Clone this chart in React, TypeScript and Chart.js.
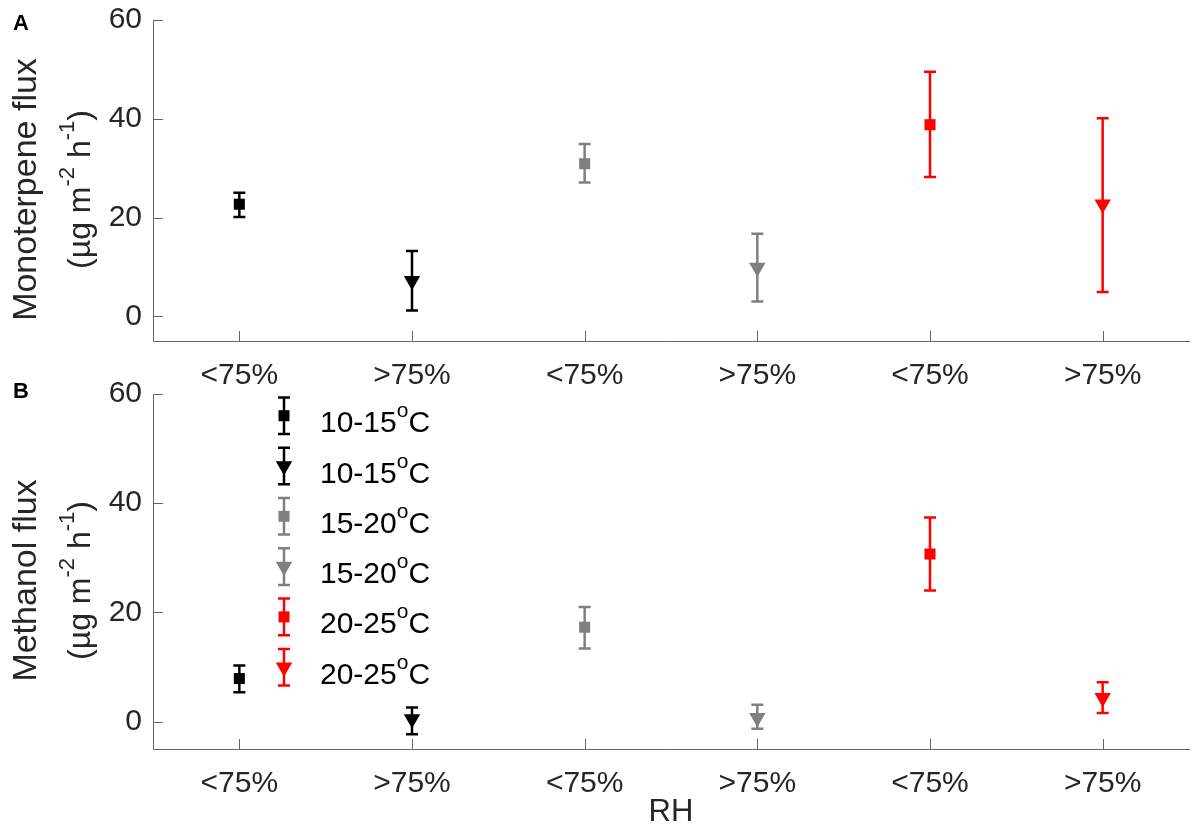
import React, { useEffect, useRef } from 'react';
import { Chart, registerables } from 'chart.js';

Chart.register(...registerables);

// ---------- data ----------
const rhCategories = ['<75%', '>75%', '<75%', '>75%', '<75%', '>75%'];
const tempLabels = ['10-15', '10-15', '15-20', '15-20', '20-25', '20-25'];
const seriesColors = ['#000000', '#000000', '#808080', '#808080', '#ff0000', '#ff0000'];
const markerShapes = ['rect', 'triangle', 'rect', 'triangle', 'rect', 'triangle'];
const yTickValues = [0, 20, 40, 60];

const monoMean = [22.7, 7.2, 30.9, 9.9, 38.8, 22.7];
const monoLow = [20.1, 1.2, 27.1, 3.0, 28.2, 4.9];
const monoHigh = [25.0, 13.2, 34.9, 16.7, 49.5, 40.1];

const methMean = [7.9, 0.5, 17.3, 0.7, 30.7, 4.4];
const methLow = [5.4, -2.3, 13.4, -1.3, 24.0, 1.6];
const methHigh = [10.3, 2.6, 21.0, 3.1, 37.4, 7.2];

// ---------- styling ----------
const FONT = "'Liberation Sans', Arial, Helvetica, sans-serif";
const TEXT = '#262626';
const AXIS = '#666666';
const CAP = 6;

type PanelCfg = {
  letter: string;
  letterY: number;
  title: string;
  mean: number[];
  low: number[];
  high: number[];
  legend: boolean;
  xTitle: string | null;
  top: number;
  height: number;
  padTop: number;
  axisHeight: number;
};

function drawMarker(ctx: CanvasRenderingContext2D, shape: string, x: number, y: number, color: string) {
  ctx.fillStyle = color;
  if (shape === 'rect') {
    ctx.fillRect(x - 5.5, y - 5.5, 11, 11);
  } else {
    const r = 9.5;
    ctx.beginPath();
    ctx.moveTo(x, y + r);
    ctx.lineTo(x - r * 0.866, y - r / 2);
    ctx.lineTo(x + r * 0.866, y - r / 2);
    ctx.closePath();
    ctx.fill();
  }
}

function drawErrorBar(ctx: CanvasRenderingContext2D, x: number, y1: number, y2: number, color: string) {
  ctx.strokeStyle = color;
  ctx.lineWidth = 2.5;
  ctx.beginPath();
  ctx.moveTo(x, y1);
  ctx.lineTo(x, y2);
  ctx.moveTo(x - CAP, y1);
  ctx.lineTo(x + CAP, y1);
  ctx.moveTo(x - CAP, y2);
  ctx.lineTo(x + CAP, y2);
  ctx.stroke();
}

function makeDecor(cfg: PanelCfg) {
  return {
    id: 'decor' + cfg.letter,
    beforeDatasetsDraw(chart: any) {
      const { ctx } = chart;
      const xs = chart.scales.x;
      const ys = chart.scales.y;
      ctx.save();
      cfg.mean.forEach((_, i) => {
        const px = xs.getPixelForValue(i + 1);
        drawErrorBar(ctx, px, ys.getPixelForValue(cfg.low[i]), ys.getPixelForValue(cfg.high[i]), seriesColors[i]);
      });
      ctx.restore();
    },
    afterDraw(chart: any) {
      const { ctx, chartArea } = chart;
      const xs = chart.scales.x;
      const ys = chart.scales.y;
      ctx.save();
      // inward tick marks
      ctx.strokeStyle = AXIS;
      ctx.lineWidth = 1;
      ctx.beginPath();
      yTickValues.forEach((v) => {
        const py = Math.round(ys.getPixelForValue(v)) + 0.5;
        ctx.moveTo(chartArea.left, py);
        ctx.lineTo(chartArea.left + 10, py);
      });
      rhCategories.forEach((_, i) => {
        const px = Math.round(xs.getPixelForValue(i + 1)) + 0.5;
        ctx.moveTo(px, chartArea.bottom);
        ctx.lineTo(px, chartArea.bottom - 10);
      });
      ctx.stroke();

      // panel letter
      ctx.fillStyle = '#000';
      ctx.font = `bold 22px ${FONT}`;
      ctx.textAlign = 'left';
      ctx.textBaseline = 'alphabetic';
      ctx.fillText(cfg.letter, 13, cfg.letterY);

      // y title (two lines, rotated)
      const cy = (chartArea.top + chartArea.bottom) / 2 + 9;
      ctx.fillStyle = TEXT;
      ctx.save();
      ctx.translate(36, cy);
      ctx.rotate(-Math.PI / 2);
      ctx.font = `34px ${FONT}`;
      ctx.textAlign = 'center';
      ctx.fillText(cfg.title, 0, 0);
      ctx.restore();

      const segs = [
        { t: '(µg m', sup: false },
        { t: '-2', sup: true },
        { t: ' h', sup: false },
        { t: '-1', sup: true },
        { t: ')', sup: false },
      ];
      const mainF = `32px ${FONT}`;
      const supF = `22px ${FONT}`;
      let total = 0;
      const widths = segs.map((s) => {
        ctx.font = s.sup ? supF : mainF;
        const w = ctx.measureText(s.t).width;
        total += w;
        return w;
      });
      ctx.save();
      ctx.translate(90, cy);
      ctx.rotate(-Math.PI / 2);
      ctx.textAlign = 'left';
      let xx = -total / 2;
      segs.forEach((s, i) => {
        ctx.font = s.sup ? supF : mainF;
        ctx.fillText(s.t, xx, s.sup ? -16 : 0);
        xx += widths[i];
      });
      ctx.restore();

      // legend
      if (cfg.legend) {
        const lx = chartArea.left + 131;
        tempLabels.forEach((lab, i) => {
          const y = chartArea.top + 21.7 + i * 50.3;
          drawErrorBar(ctx, lx, y - 18.3, y + 18.3, seriesColors[i]);
          drawMarker(ctx, markerShapes[i], lx, y, seriesColors[i]);
          ctx.fillStyle = '#000';
          ctx.textAlign = 'left';
          ctx.textBaseline = 'alphabetic';
          let tx = chartArea.left + 167;
          const base = y + 16.5;
          ctx.font = `30px ${FONT}`;
          ctx.fillText(lab, tx, base);
          tx += ctx.measureText(lab).width;
          ctx.font = `21px ${FONT}`;
          ctx.fillText('o', tx, base - 15);
          tx += ctx.measureText('o').width;
          ctx.font = `30px ${FONT}`;
          ctx.fillText('C', tx, base);
        });
      }
      ctx.restore();
    },
  };
}

function Panel({ cfg }: { cfg: PanelCfg }) {
  const ref = useRef<HTMLCanvasElement | null>(null);
  useEffect(() => {
    if (!ref.current) return;
    const datasets = cfg.mean.map((m, i) => ({
      label: tempLabels[i],
      data: [{ x: i + 1, y: m }],
      showLine: false,
      pointStyle: markerShapes[i] as any,
      pointRadius: markerShapes[i] === 'rect' ? 7.8 : 9.5,
      pointRotation: markerShapes[i] === 'rect' ? 0 : 180,
      pointBorderWidth: 0,
      backgroundColor: seriesColors[i],
      borderColor: seriesColors[i],
      pointBackgroundColor: seriesColors[i],
      pointBorderColor: seriesColors[i],
    }));
    const chart = new Chart(ref.current, {
      type: 'scatter',
      data: { datasets },
      options: {
        animation: false,
        responsive: false,
        maintainAspectRatio: false,
        events: [],
        layout: { padding: { top: cfg.padTop, right: 11, left: 0, bottom: 0 } },
        plugins: { legend: { display: false }, tooltip: { enabled: false } },
        scales: {
          x: {
            type: 'linear',
            position: 'bottom',
            min: 0.5,
            max: 6.5,
            afterBuildTicks: (s: any) => {
              s.ticks = rhCategories.map((_, i) => ({ value: i + 1 }));
            },
            afterFit: (s: any) => {
              s.height = cfg.axisHeight;
              s.paddingLeft = 0;
              s.paddingRight = 0;
            },
            ticks: {
              autoSkip: false,
              maxRotation: 0,
              minRotation: 0,
              padding: 17,
              color: TEXT,
              font: { family: FONT, size: 30 },
              callback: (v: any) => rhCategories[Math.round(Number(v)) - 1] ?? '',
            },
            grid: { display: false, drawTicks: false },
            border: { display: true, color: AXIS, width: 1 },
            title: cfg.xTitle
              ? {
                  display: true,
                  text: cfg.xTitle,
                  color: TEXT,
                  font: { family: FONT, size: 31 },
                  padding: { top: 0, bottom: 1 },
                }
              : { display: false },
          },
          y: {
            type: 'linear',
            min: -5,
            max: 60,
            afterBuildTicks: (s: any) => {
              s.ticks = yTickValues.map((v) => ({ value: v }));
            },
            afterFit: (s: any) => {
              s.width = 153;
              s.paddingTop = 0;
              s.paddingBottom = 0;
            },
            ticks: {
              padding: 11,
              color: TEXT,
              font: { family: FONT, size: 30 },
            },
            grid: { display: false, drawTicks: false },
            border: { display: true, color: AXIS, width: 1 },
          },
        },
      },
      plugins: [makeDecor(cfg)],
    } as any);
    return () => chart.destroy();
  }, [cfg]);
  return (
    <canvas
      ref={ref}
      width={1200}
      height={cfg.height}
      style={{ position: 'absolute', left: 0, top: cfg.top, width: 1200, height: cfg.height }}
    />
  );
}

const panelA: PanelCfg = {
  letter: 'A',
  letterY: 30,
  title: 'Monoterpene flux',
  mean: monoMean,
  low: monoLow,
  high: monoHigh,
  legend: false,
  xTitle: null,
  top: 0,
  height: 400,
  padTop: 20,
  axisHeight: 59,
};

const panelB: PanelCfg = {
  letter: 'B',
  letterY: 28,
  title: 'Methanol flux',
  mean: methMean,
  low: methLow,
  high: methHigh,
  legend: true,
  xTitle: 'RH',
  top: 370,
  height: 462,
  padTop: 24,
  axisHeight: 83,
};

export default function App() {
  return (
    <div style={{ position: 'absolute', left: 0, top: 0, width: 1200, height: 832, background: '#fff' }}>
      <Panel cfg={panelA} />
      <Panel cfg={panelB} />
    </div>
  );
}
